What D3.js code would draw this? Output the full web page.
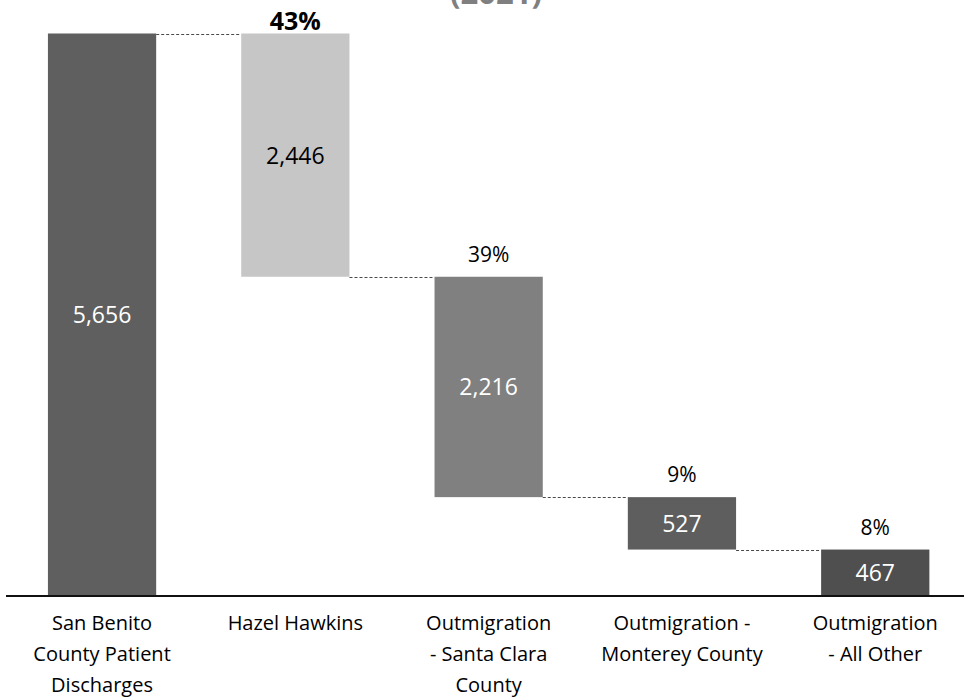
<!DOCTYPE html>
<html>
<head>
<meta charset="utf-8">
<script src="https://cdn.jsdelivr.net/npm/d3@7/dist/d3.min.js"></script>
<style>
  html, body { margin: 0; padding: 0; background: #fff; }
  svg { display: block; font-family: "Open Sans", "Noto Sans", sans-serif; }
</style>
</head>
<body>
<div id="chart"></div>
<script>
// chart data
const categories = [
  ["San Benito", "County Patient", "Discharges"],
  ["Hazel Hawkins"],
  ["Outmigration", "- Santa Clara", "County"],
  ["Outmigration -", "Monterey County"],
  ["Outmigration", "- All Other"]
];
const values = [5656, 2446, 2216, 527, 467];
const pctLabels = [null, "43%", "39%", "9%", "8%"];
const barColors = ["#5f5f5f", "#c6c6c6", "#808080", "#5e5e5e", "#4f4f4f"];
const labelColors = ["#fff", "#000", "#fff", "#fff", "#fff"];
const titleText = "(2021)";

const width = 964, height = 697;
const baseY = 596;

let svg = d3.select("#chart")
  .append("svg")
  .attr("width", width)
  .attr("height", height);

// waterfall: first bar is the total, the rest step down from it
let steps = [];
let level = values[0];
values.forEach((v, i) => {
  if (i === 0) {
    steps.push({ i: i, top: v, bottom: 0 });
  } else {
    steps.push({ i: i, top: level, bottom: level - v });
    level -= v;
  }
});

let x = d3.scaleBand()
  .domain(d3.range(values.length))
  .range([5.4, 971.9])
  .paddingInner(0.44)
  .paddingOuter(0.22);

let y = d3.scaleLinear()
  .domain([0, values[0]])
  .range([baseY, 33.5]);

// title (cut off at top, as in the original)
svg.append("text")
  .attr("x", 496)
  .attr("y", 4)
  .attr("text-anchor", "middle")
  .attr("fill", "#7f7f7f")
  .style("font-size", "31px")
  .style("font-weight", "bold")
  .text(titleText);

// connectors
let conn = svg.append("g");
steps.slice(1).forEach((s, k) => {
  let prev = steps[k];
  conn.append("line")
    .attr("x1", x(prev.i) + x.bandwidth())
    .attr("x2", x(s.i))
    .attr("y1", Math.round(y(s.top)) + 0.5)
    .attr("y2", Math.round(y(s.top)) + 0.5)
    .attr("stroke", "#4a4a4a")
    .attr("stroke-width", 1)
    .attr("stroke-dasharray", "3,2");
});

// bars
svg.append("g")
  .selectAll("rect")
  .data(steps)
  .enter()
  .append("rect")
  .attr("x", d => x(d.i))
  .attr("width", x.bandwidth())
  .attr("y", d => y(d.top))
  .attr("height", d => y(d.bottom) - y(d.top))
  .attr("fill", d => barColors[d.i]);

// value labels
svg.append("g")
  .selectAll("text")
  .data(steps)
  .enter()
  .append("text")
  .attr("x", d => x(d.i) + x.bandwidth() / 2)
  .attr("y", d => (y(d.top) + y(d.bottom)) / 2 + 8.5)
  .attr("text-anchor", "middle")
  .attr("fill", d => labelColors[d.i])
  .style("font-size", "23px")
  .text(d => d3.format(",")(values[d.i]));

// percent labels
svg.append("g")
  .selectAll("text")
  .data(steps.filter(d => pctLabels[d.i]))
  .enter()
  .append("text")
  .attr("x", d => x(d.i) + x.bandwidth() / 2)
  .attr("y", d => y(d.top) - (d.i === 1 ? 4 : 15))
  .attr("text-anchor", "middle")
  .attr("fill", "#000")
  .style("font-size", d => d.i === 1 ? "25px" : "21px")
  .style("font-weight", d => d.i === 1 ? "bold" : "normal")
  .text(d => pctLabels[d.i]);

// axis line
svg.append("line")
  .attr("x1", 6)
  .attr("x2", width)
  .attr("y1", baseY)
  .attr("y2", baseY)
  .attr("stroke", "#111")
  .attr("stroke-width", 2);

// category labels
let cat = svg.append("g")
  .selectAll("text")
  .data(categories)
  .enter()
  .append("text")
  .attr("text-anchor", "middle")
  .attr("fill", "#000")
  .style("font-size", "20px");

cat.selectAll("tspan")
  .data((d, i) => d.map(line => ({ line: line, i: i })))
  .enter()
  .append("tspan")
  .attr("x", d => x(d.i) + x.bandwidth() / 2)
  .attr("y", (d, j) => 630 + j * 31)
  .text(d => d.line);
</script>
</body>
</html>
